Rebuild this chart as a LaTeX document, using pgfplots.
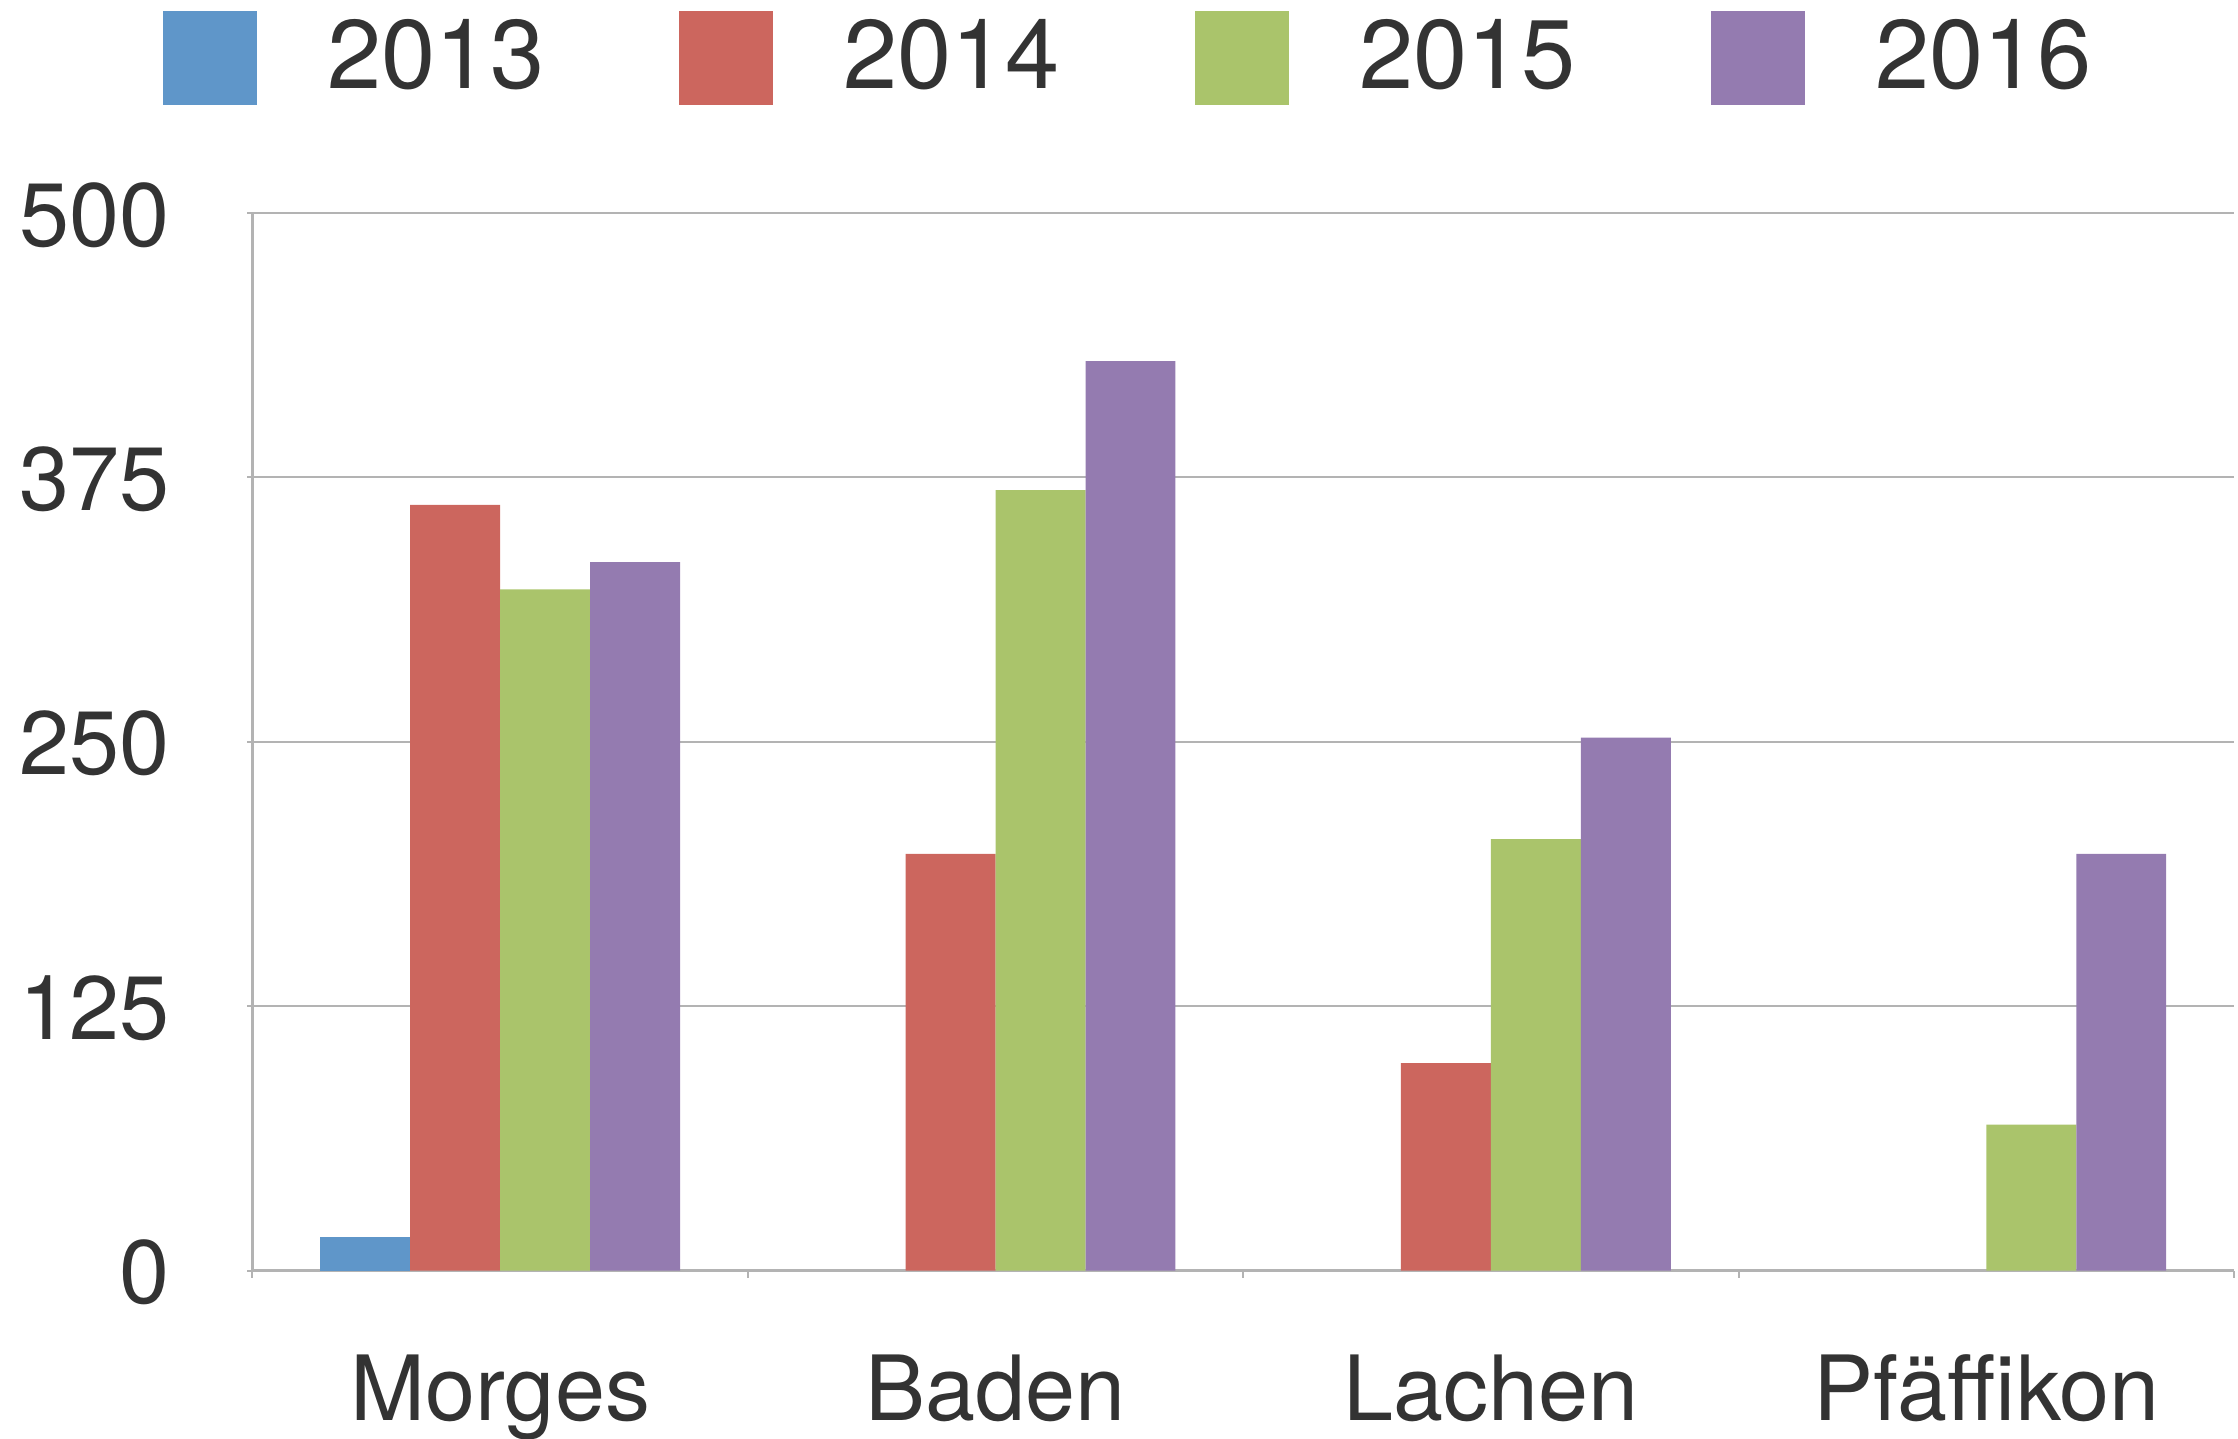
\documentclass[border=0pt]{standalone}
\usepackage{pgfplots}
\pgfplotsset{compat=1.18}
\usepackage{fontspec}
\setmainfont{TeX Gyre Heros}
\definecolor{c13}{HTML}{5F96C9}
\definecolor{c14}{HTML}{CC665E}
\definecolor{c15}{HTML}{AAC46B}
\definecolor{c16}{HTML}{947BB0}
\definecolor{txt}{HTML}{333333}
\definecolor{gridc}{HTML}{B3B3B3}
\begin{document}
\begin{tikzpicture}
\begin{axis}[
  name=ax,
  scale only axis,
  width=396.3pt, height=211.5pt,
  ybar, bar width=0.1816,
  xmin=-0.5, xmax=3.5, ymin=0, ymax=500,
  xtick={0,1,2,3},
  xticklabels={Morges,Baden,Lachen,Pfäffikon},
  minor xtick={-0.5,0.5,1.5,2.5,3.5},
  ytick={0,125,250,375,500},
  axis lines*=left,
  axis line style={gridc, line width=0.6pt},
  ymajorgrids, grid style={gridc, line width=0.4pt},
  major x tick style={draw=none},
  minor x tick style={gridc, line width=0.4pt},
  major y tick style={gridc, line width=0.4pt},
  major tick length=1pt, minor tick length=1.4pt,
  tick align=outside,
  tick label style={text=txt, font=\fontsize{18}{21}\selectfont},
  /pgf/number format/assume math mode=true,
  yticklabel style={anchor=mid east, inner sep=0pt, xshift=-15.4pt, yshift=-4pt},
  xticklabel style={anchor=base, inner sep=0pt, yshift=-29pt},
  legend style={at={(0,1)}, anchor=north west, xshift=-17.8pt, yshift=40.4pt,
    draw=none, fill=none, inner sep=0pt, outer sep=0pt,
    font=\fontsize{19.5}{23}\selectfont, text=txt,
    nodes={inner sep=0pt},
    /tikz/every odd column/.append style={column sep=14pt},
    /tikz/every even column/.append style={column sep=27pt}},
  legend columns=4,
  legend image code/.code={\fill[#1] (0pt,-9.4pt) rectangle (18.8pt,9.4pt);},
]
\addplot[fill=c13, draw=none, bar shift=-0.2724] coordinates {(0,16)};
\addplot[fill=c14, draw=none, bar shift=-0.0908] coordinates {(0,362) (1,197) (2,98)};
\addplot[fill=c15, draw=none, bar shift=0.0908] coordinates {(0,322) (1,369) (2,204) (3,69)};
\addplot[fill=c16, draw=none, bar shift=0.2724] coordinates {(0,335) (1,430) (2,252) (3,197)};
\legend{2013,2014,2015,2016}
\end{axis}
\pgfresetboundingbox
\path[use as bounding box] ([shift={(-50.5pt,-33.5pt)}]ax.south west) rectangle ++(447.6pt,287.6pt);
\end{tikzpicture}
\end{document}
